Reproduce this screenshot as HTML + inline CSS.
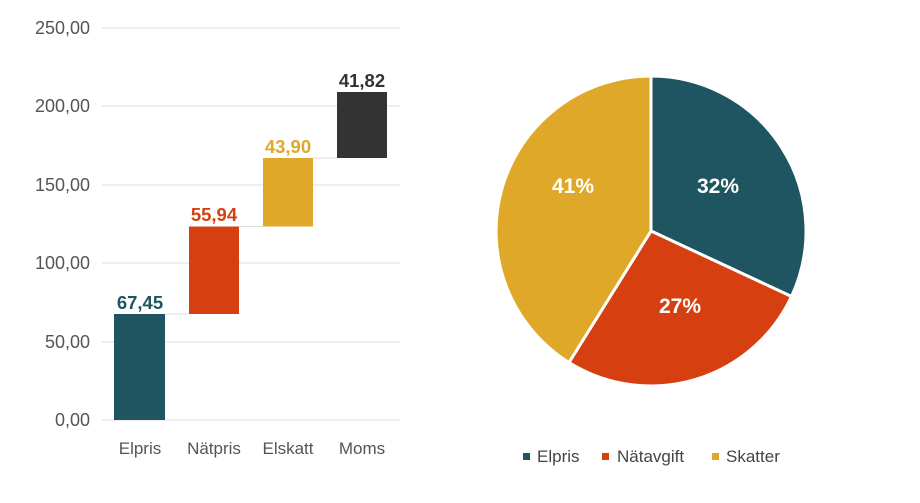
<!DOCTYPE html><html><head><style>body{margin:0;background:#fff}svg{display:block}</style></head><body>
<svg width="920" height="503" xmlns="http://www.w3.org/2000/svg" font-family="Liberation Sans, sans-serif">
<g stroke="#dcdcdc" stroke-width="1">
<line x1="102" y1="28" x2="400" y2="28"/><line x1="102" y1="106" x2="400" y2="106"/><line x1="102" y1="185" x2="400" y2="185"/><line x1="102" y1="263" x2="400" y2="263"/><line x1="102" y1="342" x2="400" y2="342"/><line x1="102" y1="420" x2="400" y2="420"/>
<line x1="165" y1="314" x2="189" y2="314"/><line x1="239" y1="226.5" x2="263" y2="226.5"/><line x1="313" y1="158" x2="337" y2="158"/>
</g>
<g fill="#555" font-size="18" text-anchor="end">
<text x="90" y="34">250,00</text><text x="90" y="112">200,00</text><text x="90" y="191">150,00</text><text x="90" y="269">100,00</text><text x="90" y="348">50,00</text><text x="90" y="426">0,00</text>
</g>
<rect x="114" y="314" width="51" height="106" fill="#1f5560"/>
<rect x="189" y="226.5" width="50" height="87.5" fill="#d64010"/>
<rect x="263" y="158" width="50" height="68.5" fill="#e0a828"/>
<rect x="337" y="92" width="50" height="66" fill="#333333"/>
<g font-size="18.5" font-weight="bold" text-anchor="middle">
<text x="140" y="309" fill="#1f5560">67,45</text><text x="214" y="221" fill="#d64010">55,94</text><text x="288" y="153" fill="#e0a828">43,90</text><text x="362" y="87" fill="#333">41,82</text>
</g>
<g fill="#555" font-size="17" text-anchor="middle">
<text x="140" y="454">Elpris</text><text x="214" y="454">Nätpris</text><text x="288" y="454">Elskatt</text><text x="362" y="454">Moms</text>
</g>
<g stroke="#fff" stroke-width="3" stroke-linejoin="round">
<path d="M651,231 L651,76 A155,155 0 0 1 791.5,296.5 Z" fill="#1f5560"/>
<path d="M651,231 L791.5,296.5 A155,155 0 0 1 569,362.5 Z" fill="#d64010"/>
<path d="M651,231 L569,362.5 A155,155 0 0 1 651,76 Z" fill="#e0a828"/>
</g>
<g fill="#fff" font-size="21" font-weight="bold" text-anchor="middle">
<text x="718" y="193">32%</text><text x="680" y="313">27%</text><text x="573" y="193">41%</text>
</g>
<g font-size="17" fill="#444">
<rect x="523" y="453" width="7" height="7" fill="#1f5560"/><text x="537" y="462">Elpris</text>
<rect x="602" y="453" width="7" height="7" fill="#d64010"/><text x="617" y="462">Nätavgift</text>
<rect x="712" y="453" width="7" height="7" fill="#e0a828"/><text x="726" y="462">Skatter</text>
</g>
</svg>
</body></html>
